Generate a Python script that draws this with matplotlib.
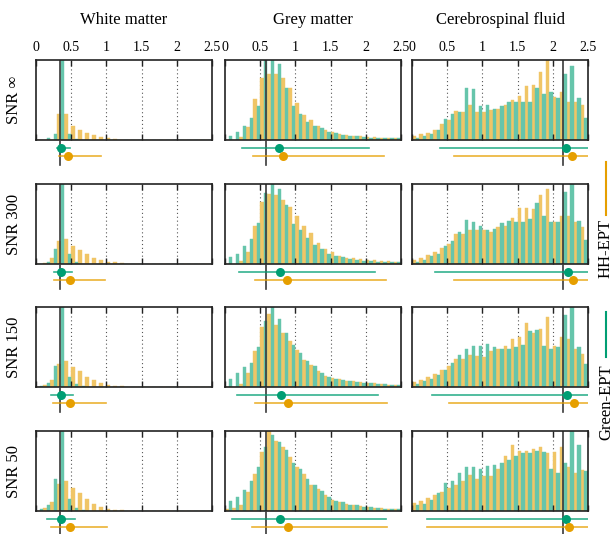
import numpy as np
import matplotlib
matplotlib.use("Agg")
import matplotlib.pyplot as plt
from matplotlib.lines import Line2D

plt.rcParams['font.family'] = ['Liberation Serif', 'DejaVu Serif']

# ---- data (bar heights as fraction of the panel height, 25 bins of 0.1 from 0 to 2.5)
tissues = ['White matter', 'Grey matter', 'Cerebrospinal fluid']
snr_labels = ['SNR \u221e', 'SNR 300', 'SNR 150', 'SNR 50']
ref_values = [0.34, 0.58, 2.14]
bin_edges = np.linspace(0, 2.5, 26)

wm_hh = [
    [0, 0, 0, 0.32, 0.33, 0.18, 0.13, 0.09, 0.06, 0.04, 0.025, 0.012, 0, 0, 0, 0, 0, 0, 0, 0, 0, 0, 0, 0, 0],
    [0, 0.01, 0.08, 0.29, 0.31, 0.22, 0.18, 0.12, 0.08, 0.05, 0.03, 0.02, 0.01, 0, 0, 0, 0, 0, 0, 0, 0, 0, 0, 0, 0],
    [0, 0.02, 0.09, 0.29, 0.33, 0.25, 0.2, 0.13, 0.09, 0.055, 0.025, 0.012, 0.008, 0, 0, 0, 0, 0, 0, 0, 0, 0, 0, 0, 0],
    [0, 0.04, 0.11, 0.34, 0.38, 0.29, 0.22, 0.15, 0.09, 0.05, 0.03, 0.015, 0.01, 0, 0, 0, 0, 0, 0, 0, 0, 0, 0, 0, 0],
]
wm_green = [
    [0, 0.02, 0.075, 1.2, 0.07, 0.01, 0, 0, 0, 0, 0, 0, 0, 0, 0, 0, 0, 0, 0, 0, 0, 0, 0, 0, 0],
    [0, 0.03, 0.19, 1.2, 0.12, 0.03, 0, 0, 0, 0, 0, 0, 0, 0, 0, 0, 0, 0, 0, 0, 0, 0, 0, 0, 0],
    [0.015, 0.05, 0.26, 1.2, 0.13, 0.04, 0.01, 0, 0, 0, 0, 0, 0, 0, 0, 0, 0, 0, 0, 0, 0, 0, 0, 0, 0],
    [0.03, 0.07, 0.4, 1.2, 0.15, 0.04, 0.015, 0, 0, 0, 0, 0, 0, 0, 0, 0, 0, 0, 0, 0, 0, 0, 0, 0, 0],
]
gm_hh = [
    [0, 0, 0.04, 0.16, 0.51, 0.78, 0.83, 0.83, 0.77, 0.65, 0.46, 0.31, 0.25, 0.18, 0.125, 0.095, 0.075, 0.06, 0.05, 0.045, 0.04, 0.035, 0.03, 0.03, 0.025],
    [0, 0, 0.04, 0.155, 0.47, 0.77, 0.875, 0.86, 0.80, 0.71, 0.60, 0.48, 0.39, 0.26, 0.19, 0.155, 0.096, 0.075, 0.07, 0.06, 0.055, 0.045, 0.04, 0.035, 0.03],
    [0, 0, 0.04, 0.17, 0.45, 0.75, 0.91, 0.78, 0.68, 0.57, 0.46, 0.34, 0.27, 0.20, 0.14, 0.11, 0.10, 0.08, 0.07, 0.06, 0.05, 0.045, 0.04, 0.03, 0.03],
    [0.02, 0.04, 0.08, 0.24, 0.46, 0.74, 1.2, 0.88, 0.80, 0.67, 0.55, 0.46, 0.33, 0.27, 0.20, 0.14, 0.11, 0.09, 0.07, 0.06, 0.05, 0.04, 0.035, 0.03, 0.03],
]
gm_green = [
    [0.054, 0.096, 0.18, 0.27, 0.43, 1.2, 1.2, 0.95, 0.65, 0.43, 0.32, 0.22, 0.18, 0.155, 0.105, 0.085, 0.065, 0.055, 0.045, 0.035, 0.03, 0.03, 0.025, 0.02, 0.02],
    [0.083, 0.13, 0.23, 0.31, 0.51, 0.89, 1.2, 0.94, 0.74, 0.50, 0.42, 0.32, 0.24, 0.19, 0.13, 0.10, 0.083, 0.06, 0.045, 0.04, 0.035, 0.03, 0.025, 0.025, 0.02],
    [0.10, 0.17, 0.25, 0.30, 0.50, 0.82, 1.2, 0.85, 0.68, 0.52, 0.42, 0.33, 0.26, 0.17, 0.12, 0.10, 0.09, 0.07, 0.06, 0.05, 0.045, 0.04, 0.035, 0.03, 0.03],
    [0.12, 0.18, 0.26, 0.37, 0.55, 0.80, 0.95, 0.86, 0.76, 0.60, 0.52, 0.40, 0.33, 0.25, 0.18, 0.13, 0.11, 0.08, 0.07, 0.05, 0.045, 0.04, 0.03, 0.03, 0.02],
]
csf_hh = [
    [0.05, 0.08, 0.09, 0.125, 0.2, 0.25, 0.36, 0.35, 0.44, 0.35, 0.35, 0.38, 0.39, 0.44, 0.5, 0.55, 0.67, 0.69, 0.85, 1.2, 0.54, 0.6, 0.47, 0.47, 0.44],
    [0.055, 0.075, 0.11, 0.155, 0.2, 0.25, 0.375, 0.375, 0.42, 0.42, 0.42, 0.4, 0.46, 0.48, 0.58, 0.7, 0.7, 0.69, 0.86, 0.94, 0.53, 0.6, 0.6, 0.53, 0.46],
    [0.06, 0.09, 0.12, 0.16, 0.21, 0.26, 0.35, 0.35, 0.4, 0.39, 0.375, 0.45, 0.48, 0.51, 0.6, 0.63, 0.8, 0.68, 0.73, 0.88, 0.51, 0.62, 0.6, 0.47, 0.41],
    [0.1, 0.13, 0.16, 0.2, 0.24, 0.29, 0.33, 0.38, 0.45, 0.4, 0.44, 0.44, 0.52, 0.69, 0.83, 0.75, 0.75, 0.78, 0.8, 0.72, 0.74, 0.8, 0.55, 0.47, 0.51],
]
csf_green = [
    [0.03, 0.05, 0.075, 0.125, 0.26, 0.33, 0.35, 0.65, 0.64, 0.42, 0.44, 0.39, 0.42, 0.47, 0.48, 0.48, 0.48, 0.65, 0.57, 0.6, 0.52, 0.83, 0.92, 0.52, 0.27],
    [0.03, 0.055, 0.095, 0.125, 0.23, 0.29, 0.4, 0.55, 0.52, 0.48, 0.43, 0.44, 0.51, 0.54, 0.52, 0.53, 0.56, 0.76, 0.6, 0.53, 0.53, 0.9, 1.2, 0.54, 0.3],
    [0.04, 0.075, 0.095, 0.155, 0.21, 0.3, 0.4, 0.48, 0.51, 0.51, 0.54, 0.5, 0.47, 0.47, 0.5, 0.53, 0.7, 0.71, 0.51, 0.48, 0.5, 0.9, 1.2, 0.5, 0.29],
    [0.07, 0.09, 0.14, 0.23, 0.35, 0.37, 0.47, 0.55, 0.55, 0.53, 0.56, 0.57, 0.6, 0.64, 0.69, 0.73, 0.73, 0.75, 0.74, 0.53, 0.47, 0.6, 1.2, 0.82, 0.5],
]

# summary markers: (mean, low, high)
wm_green_stats = [(0.35, 0.30, 0.48), (0.356, 0.25, 0.51), (0.35, 0.22, 0.52), (0.35, 0.15, 0.555)]
wm_hh_stats = [(0.46, 0.33, 0.93), (0.49, 0.25, 0.98), (0.49, 0.24, 0.99), (0.49, 0.22, 1.01)]
gm_green_stats = [(0.76, 0.24, 2.04), (0.78, 0.20, 2.13), (0.79, 0.175, 2.18), (0.78, 0.10, 2.29)]
gm_hh_stats = [(0.82, 0.40, 2.26), (0.88, 0.42, 2.29), (0.89, 0.42, 2.30), (0.90, 0.39, 2.30)]
csf_green_stats = [(2.19, 0.40, 2.5), (2.21, 0.33, 2.5), (2.20, 0.29, 2.5), (2.19, 0.22, 2.5)]
csf_hh_stats = [(2.27, 0.60, 2.5), (2.28, 0.60, 2.5), (2.30, 0.52, 2.5), (2.225, 0.22, 2.5)]

green_data = [wm_green, gm_green, csf_green]
hh_data = [wm_hh, gm_hh, csf_hh]
green_stats = [wm_green_stats, gm_green_stats, csf_green_stats]
hh_stats = [wm_hh_stats, gm_hh_stats, csf_hh_stats]

GREEN = '#009E73'
ORANGE = '#E69F00'
GREEN_BAR = '#66C5AB'
ORANGE_BAR = '#F0C566'
REF = '#3a3a3a'

W, H = 615, 534
fig = plt.figure(figsize=(W / 100, H / 100), dpi=100)


def rect(left, top, w, h):
    return [left / W, 1 - (top + h) / H, w / W, h / H]


col_left = [36, 225, 412]
row_top = [60, 184, 307, 431]
box_w, box_h = 176, 80

ticks = [0, 0.5, 1, 1.5, 2, 2.5]
half = 0.05
lefts = bin_edges[:-1]

for c in range(3):
    fig.text((col_left[c] + box_w / 2) / W, 1 - 20 / H, tissues[c],
             ha='center', va='center', fontsize=12)
    for r in range(4):
        ax = fig.add_axes(rect(col_left[c], row_top[r], box_w, box_h))
        ax.bar(lefts, hh_data[c][r], width=half, align='edge',
               color=ORANGE_BAR, edgecolor=ORANGE_BAR, linewidth=0.3)
        ax.bar(lefts + half, green_data[c][r], width=half, align='edge',
               color=GREEN_BAR, edgecolor=GREEN_BAR, linewidth=0.3)
        for t in ticks[1:-1]:
            ax.axvline(t, color='#555555', ls=(0, (1, 2.5)), lw=0.8, zorder=0)
        ax.axvline(ref_values[c], color=REF, lw=1.2)
        ax.set_xlim(0, 2.5)
        ax.set_ylim(0, 1)
        ax.set_yticks([])
        ax.set_xticks(ticks)
        ax.tick_params(axis='x', direction='in', top=True, bottom=True,
                       length=4, width=1.0, color='#222222',
                       labelbottom=False, labeltop=(r == 0), labelsize=10, pad=4)
        if r == 0:
            ax.set_xticklabels(['0', '0.5', '1', '1.5', '2', '2.5'])
        for s in ax.spines.values():
            s.set_linewidth(1.2)
            s.set_color('#222222')

        # summary strip below the panel
        ax2 = fig.add_axes(rect(col_left[c], row_top[r] + box_h, box_w, 26))
        ax2.set_xlim(0, 2.5)
        ax2.set_ylim(26, 0)
        ax2.axis('off')
        ax2.plot([ref_values[c], ref_values[c]], [0, 25], color=REF, lw=1.2)
        m, lo, hi = green_stats[c][r]
        ax2.plot([lo, hi], [8, 8], color=GREEN, lw=1.2, alpha=0.8)
        ax2.plot(m, 8, 'o', color=GREEN, ms=6.5, mec='none')
        m, lo, hi = hh_stats[c][r]
        ax2.plot([lo, hi], [16, 16], color=ORANGE, lw=1.2, alpha=0.8)
        ax2.plot(m, 16, 'o', color=ORANGE, ms=6.5, mec='none')

for r in range(4):
    fig.text(14 / W, 1 - (row_top[r] + box_h / 2) / H, snr_labels[r],
             rotation=90, ha='center', va='center', fontsize=12)

# legend on the right side
fig.add_artist(Line2D([606 / W, 606 / W], [1 - 162 / H, 1 - 215 / H],
                      color=ORANGE, lw=1.5))
fig.text(606 / W, 1 - 248 / H, 'HH-EPT', rotation=90, ha='center', va='center', fontsize=12)
fig.add_artist(Line2D([606 / W, 606 / W], [1 - 312 / H, 1 - 357 / H],
                      color=GREEN, lw=1.5))
fig.text(606 / W, 1 - 402 / H, 'Green-EPT', rotation=90, ha='center', va='center', fontsize=12)

fig.savefig('out.png', dpi=100)
